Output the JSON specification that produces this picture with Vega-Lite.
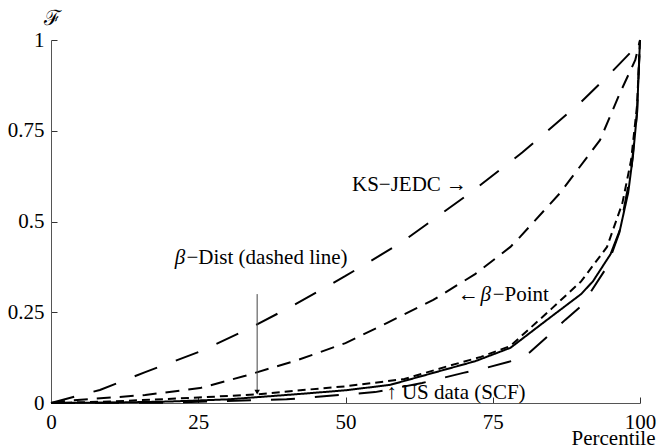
{
  "$schema": "https://vega.github.io/schema/vega-lite/v6.json",
  "width": 589,
  "height": 363,
  "autosize": "none",
  "padding": {"left": 51, "top": 40, "right": 17, "bottom": 45},
  "background": "white",
  "config": {
    "view": {"stroke": null},
    "font": "Liberation Serif",
    "axis": {
      "labelFont": "Liberation Serif",
      "labelFontSize": 21,
      "labelColor": "black",
      "titleFont": "Liberation Serif",
      "titleFontSize": 21,
      "titleFontWeight": "normal",
      "titleColor": "black",
      "domainColor": "#555",
      "tickColor": "#333",
      "tickWidth": 1,
      "grid": false
    }
  },
  "datasets": {
    "curves": [
      {"series": "KS", "x": 0, "y": 0},
      {"series": "KS", "x": 8.3, "y": 0.036},
      {"series": "KS", "x": 16, "y": 0.085},
      {"series": "KS", "x": 25.3, "y": 0.142},
      {"series": "KS", "x": 33, "y": 0.2},
      {"series": "KS", "x": 40.6, "y": 0.264},
      {"series": "KS", "x": 50, "y": 0.35},
      {"series": "KS", "x": 59.3, "y": 0.44},
      {"series": "KS", "x": 71.1, "y": 0.578},
      {"series": "KS", "x": 80, "y": 0.69},
      {"series": "KS", "x": 89.8, "y": 0.826},
      {"series": "KS", "x": 95.2, "y": 0.912},
      {"series": "KS", "x": 98.3, "y": 0.964},
      {"series": "KS", "x": 100, "y": 1},
      {"series": "BP", "x": 0, "y": 0},
      {"series": "BP", "x": 2.7, "y": 0.006},
      {"series": "BP", "x": 16, "y": 0.022},
      {"series": "BP", "x": 25.3, "y": 0.041},
      {"series": "BP", "x": 33, "y": 0.075},
      {"series": "BP", "x": 41.8, "y": 0.118},
      {"series": "BP", "x": 50, "y": 0.165},
      {"series": "BP", "x": 57, "y": 0.22},
      {"series": "BP", "x": 64.9, "y": 0.284},
      {"series": "BP", "x": 72, "y": 0.355},
      {"series": "BP", "x": 78, "y": 0.43},
      {"series": "BP", "x": 79.6, "y": 0.457},
      {"series": "BP", "x": 86.4, "y": 0.578},
      {"series": "BP", "x": 93.2, "y": 0.724},
      {"series": "BP", "x": 96.6, "y": 0.854},
      {"series": "BP", "x": 99.2, "y": 0.945},
      {"series": "BP", "x": 100, "y": 1},
      {"series": "BD", "x": 0, "y": 0},
      {"series": "BD", "x": 10, "y": 0.004},
      {"series": "BD", "x": 25, "y": 0.015},
      {"series": "BD", "x": 35, "y": 0.024},
      {"series": "BD", "x": 42.3, "y": 0.035},
      {"series": "BD", "x": 50, "y": 0.046},
      {"series": "BD", "x": 60, "y": 0.066},
      {"series": "BD", "x": 67.7, "y": 0.103},
      {"series": "BD", "x": 73, "y": 0.127},
      {"series": "BD", "x": 78, "y": 0.157},
      {"series": "BD", "x": 85, "y": 0.26},
      {"series": "BD", "x": 90, "y": 0.335},
      {"series": "BD", "x": 94.4, "y": 0.43},
      {"series": "BD", "x": 97, "y": 0.55},
      {"series": "BD", "x": 98.5, "y": 0.67},
      {"series": "BD", "x": 99.5, "y": 0.82},
      {"series": "BD", "x": 100, "y": 1},
      {"series": "US", "x": 0, "y": 0},
      {"series": "US", "x": 10, "y": 0.001},
      {"series": "US", "x": 20, "y": 0.004},
      {"series": "US", "x": 30, "y": 0.01},
      {"series": "US", "x": 42.3, "y": 0.025},
      {"series": "US", "x": 50, "y": 0.035},
      {"series": "US", "x": 57.6, "y": 0.05},
      {"series": "US", "x": 66, "y": 0.088},
      {"series": "US", "x": 72, "y": 0.115},
      {"series": "US", "x": 78, "y": 0.152},
      {"series": "US", "x": 84.7, "y": 0.235},
      {"series": "US", "x": 90, "y": 0.3},
      {"series": "US", "x": 92, "y": 0.335},
      {"series": "US", "x": 95, "y": 0.41},
      {"series": "US", "x": 96.6, "y": 0.477},
      {"series": "US", "x": 98, "y": 0.58},
      {"series": "US", "x": 98.8, "y": 0.68},
      {"series": "US", "x": 99.5, "y": 0.8},
      {"series": "US", "x": 100, "y": 1},
      {"series": "E", "x": 0, "y": 0},
      {"series": "E", "x": 20, "y": 0.001},
      {"series": "E", "x": 40, "y": 0.01},
      {"series": "E", "x": 55, "y": 0.03},
      {"series": "E", "x": 63, "y": 0.055},
      {"series": "E", "x": 70, "y": 0.083},
      {"series": "E", "x": 73.7, "y": 0.096},
      {"series": "E", "x": 77.6, "y": 0.113},
      {"series": "E", "x": 80, "y": 0.124},
      {"series": "E", "x": 81.3, "y": 0.14},
      {"series": "E", "x": 84.2, "y": 0.182},
      {"series": "E", "x": 87.3, "y": 0.229},
      {"series": "E", "x": 90.2, "y": 0.27},
      {"series": "E", "x": 94.4, "y": 0.375},
      {"series": "E", "x": 96.5, "y": 0.47},
      {"series": "E", "x": 98.5, "y": 0.64},
      {"series": "E", "x": 99.5, "y": 0.8},
      {"series": "E", "x": 100, "y": 1}
    ],
    "labels": [
      {"text": "KS−JEDC →", "x": 51.1, "y": 0.6},
      {"text": "−Dist (dashed line)", "x": 23.0, "y": 0.4},
      {"text": "←", "x": 69.1, "y": 0.298},
      {"text": "−Point", "x": 75.0, "y": 0.298},
      {"text": "↑ US data (SCF)", "x": 56.9, "y": 0.028}
    ],
    "betas": [
      {"text": "β", "x": 21.0, "y": 0.4},
      {"text": "β", "x": 72.9, "y": 0.298}
    ],
    "arrow": [
      {"x": 35, "y": 0.3, "y2": 0.03}
    ]
  },
  "layer": [
    {
      "data": {"name": "curves"},
      "mark": {"type": "line", "color": "black", "strokeWidth": 2},
      "encoding": {
        "x": {
          "field": "x", "type": "quantitative",
          "scale": {"domain": [0, 100], "nice": false},
          "axis": {
            "values": [0, 25, 50, 75, 100],
            "tickSize": -6,
            "labelPadding": 14,
            "labelFlush": false,
            "title": "Percentile",
            "titleX": 562,
            "titleY": 35,
            "titleBaseline": "middle",
            "titleAlign": "center",
            "titleAnchor": null
          }
        },
        "y": {
          "field": "y", "type": "quantitative",
          "scale": {"domain": [0, 1], "nice": false},
          "axis": {
            "values": [0, 0.25, 0.5, 0.75, 1],
            "labelExpr": "'' + datum.value",
            "tickSize": -6,
            "labelPadding": 13,
            "labelFlush": false,
            "title": "ℱ",
            "titleAngle": 0,
            "titleX": 1,
            "titleY": -22,
            "titleAlign": "center",
            "titleBaseline": "middle",
            "titleAnchor": null
          }
        },
        "strokeDash": {
          "field": "series", "type": "nominal",
          "scale": {"domain": ["KS", "BP", "BD", "US", "E"], "range": [[24, 20], [14, 9], [8, 5], [1, 0], [24, 20]]},
          "legend": null
        }
      }
    },
    {
      "data": {"name": "arrow"},
      "mark": {"type": "rule", "color": "#444", "strokeWidth": 1},
      "encoding": {
        "x": {"field": "x", "type": "quantitative"},
        "y": {"field": "y", "type": "quantitative"},
        "y2": {"field": "y2"}
      }
    },
    {
      "data": {"name": "arrow"},
      "mark": {"type": "point", "shape": "triangle-down", "filled": true, "color": "black", "size": 30, "opacity": 1},
      "encoding": {
        "x": {"field": "x", "type": "quantitative"},
        "y": {"field": "y2", "type": "quantitative"}
      }
    },
    {
      "data": {"name": "labels"},
      "mark": {"type": "text", "align": "left", "baseline": "middle", "font": "Liberation Serif", "fontSize": 21, "color": "black"},
      "encoding": {
        "x": {"field": "x", "type": "quantitative"},
        "y": {"field": "y", "type": "quantitative"},
        "text": {"field": "text"}
      }
    },
    {
      "data": {"name": "betas"},
      "mark": {"type": "text", "align": "left", "baseline": "middle", "font": "Liberation Serif", "fontSize": 21, "fontStyle": "italic", "color": "black"},
      "encoding": {
        "x": {"field": "x", "type": "quantitative"},
        "y": {"field": "y", "type": "quantitative"},
        "text": {"field": "text"}
      }
    }
  ]
}
